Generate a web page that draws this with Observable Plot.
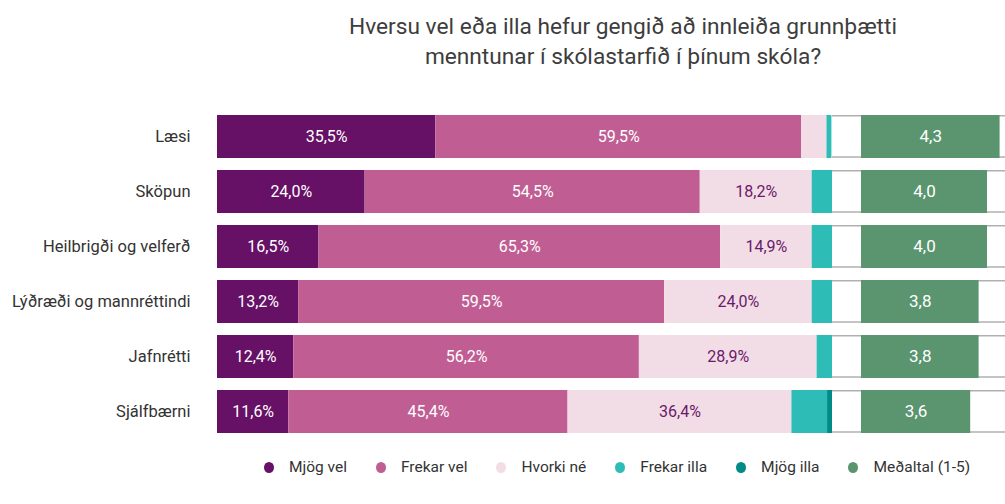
<!DOCTYPE html>
<html><head><meta charset="utf-8">
<script src="https://cdn.jsdelivr.net/npm/d3@7"></script>
<script src="https://cdn.jsdelivr.net/npm/@observablehq/plot@0.6"></script>
<style>
html,body{margin:0;padding:0;background:#fff;overflow:hidden;}
body{width:1005px;height:504px;font-family:Roboto,"Noto Sans",sans-serif;}
#wrap{width:1029px;}
#title{margin-left:217px;width:812px;text-align:center;font-size:22.7px;line-height:30px;color:#3d3d3d;padding-top:12px;height:68px;}
#plots{display:flex;flex-wrap:nowrap;}
#legend{margin-left:217px;width:800px;display:flex;justify-content:center;gap:29px;padding-top:5px;font-size:15.5px;line-height:20px;color:#333;}
#legend span.sw{display:inline-block;width:10px;height:11px;border-radius:50%;margin-right:15px;vertical-align:-1px;}
</style></head>
<body>
<div id="wrap">
<div id="title">Hversu vel eða illa hefur gengið að innleiða grunnþætti<br>menntunar í skólastarfið í þínum skóla?</div>
<div id="plots"></div>
<div id="legend"></div>
</div>
<script>
const categories = ["Læsi","Sköpun","Heilbrigði og velferð","Lýðræði og mannréttindi","Jafnrétti","Sjálfbærni"];
const seriesNames = ["Mjög vel","Frekar vel","Hvorki né","Frekar illa","Mjög illa"];
const mjogVel    = [35.5,24.0,16.5,13.2,12.4,11.6];
const frekarVel  = [59.5,54.5,65.3,59.5,56.2,45.4];
const hvorkiNe   = [4.1,18.2,14.9,24.0,28.9,36.4];
const frekarIlla = [0.8,3.3,3.3,3.3,2.5,5.8];
const mjogIlla   = [0,0,0,0,0,0.8];
const medaltal   = [4.3,4.0,4.0,3.8,3.8,3.6];
const meanName = "Meðaltal (1-5)";
const colors = ["#661066","#c05e94","#f2dde6","#2ebdb6","#008b87"];
const meanColor = "#5a956f";

const seriesValues = [mjogVel,frekarVel,hvorkiNe,frekarIlla,mjogIlla];
const rows = [];
categories.forEach((c,i)=>{
  seriesNames.forEach((s,j)=>rows.push({cat:c,series:s,value:seriesValues[j][i]}));
});
const means = categories.map((c,i)=>({cat:c,value:medaltal[i]}));
const fmt = v => v.toFixed(1).replace(".", ",");

const H = 372, MT = 23, MB = 7, PAD = 0.218;
const yOpts = {domain:categories, padding:PAD, label:null};
const baseStyle = {fontFamily:"Roboto, 'Noto Sans', sans-serif", fontSize:"16.5px", color:"#333", background:"transparent"};

const p1 = Plot.plot({
  width:832, height:H, marginLeft:217, marginRight:0, marginTop:MT, marginBottom:MB,
  style:baseStyle,
  x:{domain:[0,100], axis:null},
  y:{...yOpts, tickSize:0, tickPadding:27},
  color:{domain:seriesNames, range:colors},
  marks:[
    Plot.barX(rows, Plot.stackX({x:"value", y:"cat", fill:"series", z:"series", order:null})),
    Plot.textX(rows, Plot.stackX({x:"value", y:"cat", z:"series", order:null,
      text:d => (d.series==="Mjög vel"||d.series==="Frekar vel") && d.value>=8 ? fmt(d.value)+"%" : "",
      fill:"white", fontSize:16})),
    Plot.textX(rows, Plot.stackX({x:"value", y:"cat", z:"series", order:null,
      text:d => d.series==="Hvorki né" && d.value>=8 ? fmt(d.value)+"%" : "",
      fill:"#6a1a6a", fontSize:16}))
  ]
});

const p2 = Plot.plot({
  width:197, height:H, marginLeft:29, marginRight:0, marginTop:MT, marginBottom:MB,
  style:baseStyle,
  x:{domain:[1,5], axis:null},
  y:{...yOpts, axis:null},
  marks:[
    Plot.barX(means, {x1:d=>1, x2:d=>5, y:"cat", insetLeft:-29, insetBottom:41.5, fill:"#b0b0b0"}),
    Plot.barX(means, {x1:d=>1, x2:d=>5, y:"cat", insetLeft:-29, insetTop:41, fill:"#c4c4c4"}),
    Plot.barX(means, {x1:d=>1, x2:"value", y:"cat", fill:meanColor}),
    Plot.text(means, {x:d=>(1+d.value)/2, y:"cat", text:d=>fmt(d.value), fill:"white", fontSize:17})
  ]
});

document.getElementById("plots").append(p1,p2);

const legend = document.getElementById("legend");
[...seriesNames.map((s,i)=>[s,colors[i]]), [meanName, meanColor]].forEach(([s,c])=>{
  const it = document.createElement("div");
  it.innerHTML = `<span class="sw" style="background:${c}"></span>${s}`;
  legend.append(it);
});
</script>
</body></html>
